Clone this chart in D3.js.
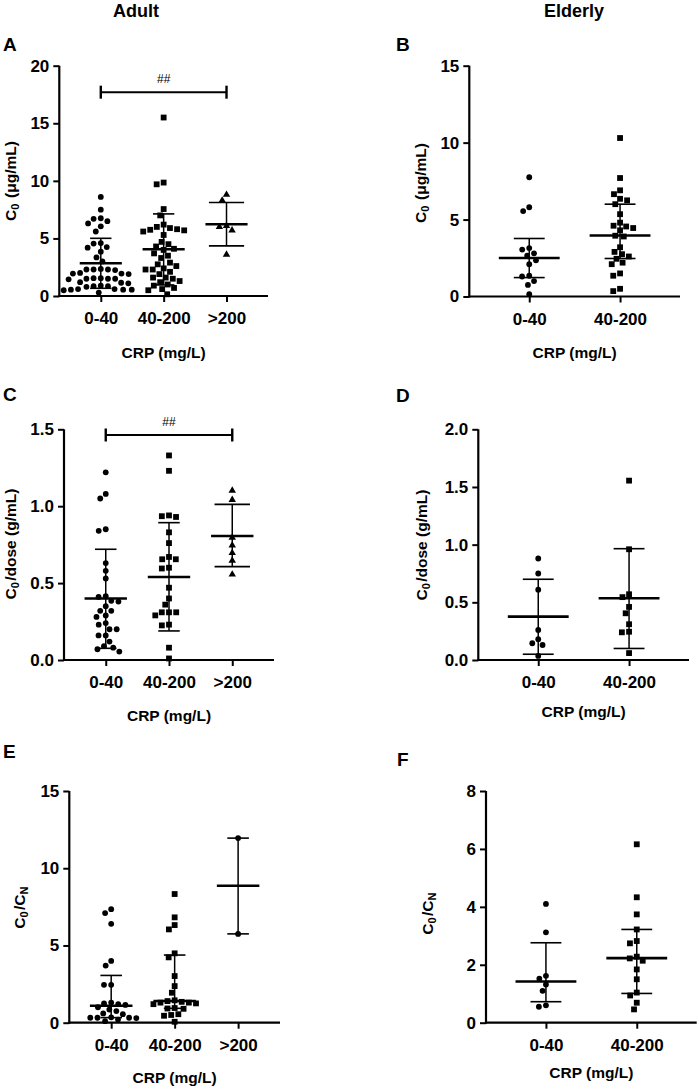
<!DOCTYPE html>
<html><head><meta charset="utf-8">
<script src="https://cdn.jsdelivr.net/npm/d3@7"></script>
<style>
body{margin:0;background:#fff}
text{font-family:"Liberation Sans",Arial,sans-serif;fill:#000}
</style>
</head><body>
<svg id="c" width="699" height="1088"></svg>
<script>
// ---------- categories & ticks ----------
const catsAdult = ["0-40", "40-200", ">200"];
const catsElderly = ["0-40", "40-200"];
const ticksA = [0, 5, 10, 15, 20];
const ticksB = [0, 5, 10, 15];
const ticksC = [0.0, 0.5, 1.0, 1.5];
const ticksD = [0.0, 0.5, 1.0, 1.5, 2.0];
const ticksE = [0, 5, 10, 15];
const ticksF = [0, 2, 4, 6, 8];

// ---------- Panel A: Adult C0 ----------
const aC0_g1 = [8.6, 7.5, 6.75, 6.7, 6.5, 6.3, 6.05, 5.6, 4.6, 4.55, 4.25, 4.2, 3.85, 3.35, 3.0,
  2.35, 2.3, 2.3, 2.3, 2.25, 2.0, 1.95, 1.95, 1.9, 1.55, 1.55, 1.5, 1.5, 1.5, 1.45, 1.2, 1.15, 1.1,
  0.9, 0.85, 0.85, 0.8, 0.6, 0.6, 0.55, 0.55, 0.55, 0.5, 0.3];
const aC0_g2 = [15.5, 9.85, 9.7, 7.55, 7.0, 6.2, 6.0, 5.9, 5.8, 5.75, 5.7, 5.6, 5.3, 4.7, 4.5, 4.3, 4.1,
  4.0, 3.7, 3.5, 3.3, 2.9, 2.75, 2.6, 2.4, 2.3, 2.3, 2.1, 1.9, 1.6, 1.6, 1.5, 1.3, 1.2, 1.0, 0.9, 0.7,
  0.6, 0.5, 0.15];
const aC0_g3 = [8.85, 8.35, 6.15, 6.05, 5.75, 3.65];
const aC0_center = [2.84, 4.06, 6.23];
const aC0_low = [0.67, 0.96, 4.35];
const aC0_high = [5.01, 7.13, 8.12];

// ---------- Panel B: Elderly C0 ----------
const eC0_g1 = [7.75, 5.8, 5.55, 3.15, 3.05, 2.8, 2.65, 2.35, 2.1, 1.35, 1.3, 1.0, 0.75, 0.15];
const eC0_g2 = [10.3, 7.7, 6.9, 6.65, 6.35, 6.25, 6.0, 5.35, 4.8, 4.6, 4.55, 4.45, 4.3, 3.95, 3.9,
  3.2, 2.9, 2.75, 2.6, 2.45, 2.2, 2.1, 1.5, 1.35, 0.5, 0.35];
const eC0_center = [2.5, 3.96];
const eC0_low = [1.23, 2.47];
const eC0_high = [3.77, 6.0];

// ---------- Panel C: Adult C0/dose ----------
const aDose_g1 = [1.22, 1.08, 1.05, 0.85, 0.84, 0.63, 0.58, 0.53, 0.415, 0.41, 0.385, 0.38, 0.35, 0.32,
  0.32, 0.29, 0.28, 0.24, 0.23, 0.20, 0.20, 0.16, 0.16, 0.12, 0.09, 0.08, 0.07, 0.055];
const aDose_g2 = [1.33, 1.23, 0.935, 0.94, 0.93, 0.83, 0.76, 0.67, 0.655, 0.655, 0.595, 0.60, 0.47,
  0.40, 0.36, 0.31, 0.31, 0.31, 0.29, 0.225, 0.23, 0.08, 0.01];
const aDose_g3 = [1.105, 1.045, 0.80, 0.75, 0.70, 0.65, 0.56];
const aDose_center = [0.40, 0.54, 0.806];
const aDose_low = [0.076, 0.189, 0.607];
const aDose_high = [0.72, 0.893, 1.012];

// ---------- Panel D: Elderly C0/dose ----------
const eDose_g1 = [0.88, 0.75, 0.61, 0.26, 0.18, 0.145, 0.13, 0.035];
const eDose_g2 = [1.555, 0.96, 0.57, 0.545, 0.46, 0.405, 0.31, 0.245, 0.24, 0.06];
const eDose_center = [0.376, 0.535];
const eDose_low = [0.05, 0.10];
const eDose_high = [0.70, 0.965];

// ---------- Panel E: Adult C0/CN ----------
const aCN_g1 = [7.35, 7.1, 6.4, 4.0, 3.7, 2.45, 2.45, 1.3, 1.25, 1.2, 1.15, 1.0, 0.85, 0.75, 0.6, 0.55,
  0.35, 0.32, 0.32, 0.32, 0.3, 0.2, 0.1];
const aCN_g2 = [8.33, 6.82, 6.32, 6.04, 4.49, 4.23, 3.02, 2.37, 1.94, 1.45, 1.40, 1.35, 1.3, 1.3, 1.25,
  1.2, 0.95, 0.92, 0.9, 0.55, 0.5, 0.45, 0.06];
const aCN_g3 = [11.95, 5.75];
const aCN_center = [1.1, 1.4, 8.87];
const aCN_low = [0.33, 0.93, 5.75];
const aCN_high = [3.06, 4.38, 11.95];

// ---------- Panel F: Elderly C0/CN ----------
const eCN_g1 = [4.1, 3.12, 1.62, 1.52, 1.32, 1.1, 0.6, 0.55];
const eCN_g2 = [6.16, 4.33, 3.74, 3.22, 2.82, 2.74, 2.28, 2.22, 2.14, 1.84, 1.5, 1.04, 0.94, 0.69, 0.46];
const eCN_center = [1.42, 2.23];
const eCN_low = [0.725, 1.01];
const eCN_high = [2.76, 3.22];

// significance brackets (value level of bar, label)
const sigA = { from: "0-40", to: ">200", level: 17.7, label: "##" };
const sigC = { from: "0-40", to: ">200", level: 1.463, label: "##" };

// ---------- drawing ----------
const svg = d3.select("#c");
const FONT = '"Liberation Sans", Arial, sans-serif';

function beeswarm(vals, y, d) {
  const order = vals.map((v, i) => i).sort((a, b) => vals[b] - vals[a]);
  const placed = [];
  const off = new Array(vals.length).fill(0);
  for (const i of order) {
    const py = y(vals[i]);
    const ivs = [];
    for (const p of placed) {
      const dy = Math.abs(p.y - py);
      if (dy < d) { const w = Math.sqrt(d * d - dy * dy); ivs.push([p.x - w, p.x + w]); }
    }
    const cands = [0];
    ivs.forEach(iv => cands.push(iv[0], iv[1]));
    cands.sort((a, b) => Math.abs(a) - Math.abs(b));
    let best = 0;
    for (const c of cands) {
      if (ivs.every(iv => c <= iv[0] + 1e-6 || c >= iv[1] - 1e-6)) { best = c; break; }
    }
    off[i] = best;
    placed.push({ x: best, y: py });
  }
  return off;
}

function drawMarker(g, shape, cx, cy) {
  if (shape === "circle") {
    g.append("circle").attr("cx", cx).attr("cy", cy).attr("r", 2.9).attr("fill", "#000");
  } else if (shape === "square") {
    g.append("rect").attr("x", cx - 2.9).attr("y", cy - 2.9).attr("width", 5.8).attr("height", 5.8).attr("fill", "#000");
  } else {
    g.append("path").attr("d", d3.symbol(d3.symbolTriangle).size(24)())
      .attr("transform", `translate(${cx},${cy + 0.6})`).attr("fill", "#000");
  }
}

function panel(cfg) {
  const g = svg.append("g");
  const x = d3.scalePoint().domain(cfg.cats).range([cfg.left, cfg.right]).padding(0.66);
  const y = d3.scaleLinear().domain([0, d3.max(cfg.ticks)]).range([cfg.bottom, cfg.top]);
  const step = x.step();

  // points
  cfg.groups.forEach((vals, gi) => {
    const cx = x(cfg.cats[gi]);
    const offs = beeswarm(vals, y, 7.2);
    vals.forEach((v, i) => drawMarker(g, cfg.shapes[gi], cx + offs[i], y(v)));
  });

  // center line & error bars
  cfg.cats.forEach((c, gi) => {
    const cx = x(c);
    const capW = (cfg.shapes[gi] === "triangle" ? 0.28 : 0.17) * step;
    const midW = 0.335 * step;
    g.append("line").attr("x1", cx).attr("x2", cx)
      .attr("y1", y(cfg.low[gi])).attr("y2", y(cfg.high[gi]))
      .attr("stroke", "#000").attr("stroke-width", 1.5);
    [cfg.low[gi], cfg.high[gi]].forEach(v => {
      g.append("line").attr("x1", cx - capW).attr("x2", cx + capW)
        .attr("y1", y(v)).attr("y2", y(v)).attr("stroke", "#000").attr("stroke-width", 1.6);
    });
    g.append("line").attr("x1", cx - midW).attr("x2", cx + midW)
      .attr("y1", y(cfg.center[gi])).attr("y2", y(cfg.center[gi]))
      .attr("stroke", "#000").attr("stroke-width", 2.6);
  });

  // significance bracket
  if (cfg.sig) {
    const s = cfg.sig, yy = y(s.level);
    const x1 = x(s.from), x2 = x(s.to);
    g.append("line").attr("x1", x1).attr("x2", x2).attr("y1", yy).attr("y2", yy)
      .attr("stroke", "#000").attr("stroke-width", 2);
    [x1, x2].forEach(xx => g.append("line").attr("x1", xx).attr("x2", xx)
      .attr("y1", yy - 6.5).attr("y2", yy + 6.5).attr("stroke", "#000").attr("stroke-width", 2.4));
    g.append("text").attr("x", (x1 + x2) / 2).attr("y", yy - 9)
      .attr("text-anchor", "middle").attr("font-size", 12).text(s.label);
  }

  // axes
  const yAxis = d3.axisLeft(y).tickValues(cfg.ticks).tickSize(6).tickSizeOuter(0).tickPadding(4)
    .tickFormat(cfg.fmt);
  const yg = g.append("g").attr("transform", `translate(${cfg.left},0)`).call(yAxis);
  const xAxis = d3.axisBottom(x).tickSize(6).tickSizeOuter(0).tickPadding(10);
  const xg = g.append("g").attr("transform", `translate(0,${cfg.bottom})`).call(xAxis);
  [yg, xg].forEach(a => {
    a.select(".domain").attr("stroke", "#000").attr("stroke-width", 2.2);
    a.selectAll(".tick line").attr("stroke", "#000").attr("stroke-width", 2);
    a.selectAll(".tick text").attr("font-family", FONT).attr("font-weight", "bold")
      .attr("font-size", 17).attr("fill", "#000");
  });
  yg.select(".domain").attr("d", `M0,${cfg.bottom + 1}V${cfg.top}`);
  xg.select(".domain").attr("d", `M${cfg.left - 1},0H${cfg.right}`);

  // y title
  const t = g.append("text").attr("transform", `translate(${cfg.ylabX},${cfg.ylabY}) rotate(-90)`)
    .attr("text-anchor", "middle").attr("font-weight", "bold").attr("font-size", 15.5);
  cfg.ylab.forEach(p => {
    if (p[1] === "sub") {
      t.append("tspan").attr("font-size", 11).attr("dy", 3).text(p[0]);
      t.append("tspan").attr("dy", -3).text("\u200A");
    } else {
      t.append("tspan").text(p[0]);
    }
  });

  // x title
  const xs = cfg.cats.map(c => x(c));
  g.append("text").attr("x", (xs[0] + xs[xs.length - 1]) / 2).attr("y", cfg.xlabY)
    .attr("text-anchor", "middle").attr("font-weight", "bold").attr("font-size", 15.5).text("CRP (mg/L)");

  // panel letter
  g.append("text").attr("x", cfg.letterX).attr("y", cfg.letterY)
    .attr("font-weight", "bold").attr("font-size", 19).text(cfg.letter);
}

const f0 = d3.format("d"), f1 = d3.format(".1f");
const labC0 = [["C", ""], ["0", "sub"], [" (\u03bcg/mL)", ""]];
const labDose = [["C", ""], ["0", "sub"], ["/dose (g/mL)", ""]];
const labCN = [["C", ""], ["0", "sub"], ["/C", ""], ["N", "sub"]];

panel({ letter: "A", letterX: 3, letterY: 51, cats: catsAdult, ticks: ticksA, fmt: f0,
  groups: [aC0_g1, aC0_g2, aC0_g3], shapes: ["circle", "square", "triangle"],
  center: aC0_center, low: aC0_low, high: aC0_high, sig: sigA,
  left: 59.3, right: 268, top: 65.7, bottom: 296, ylab: labC0, ylabX: 15.5, ylabY: 181, xlabY: 357.5 });

panel({ letter: "B", letterX: 396, letterY: 51, cats: catsElderly, ticks: ticksB, fmt: f0,
  groups: [eC0_g1, eC0_g2], shapes: ["circle", "square"],
  center: eC0_center, low: eC0_low, high: eC0_high,
  left: 469.3, right: 680, top: 65.7, bottom: 296.5, ylab: labC0, ylabX: 426, ylabY: 183, xlabY: 358 });

panel({ letter: "C", letterX: 3, letterY: 401, cats: catsAdult, ticks: ticksC, fmt: f1,
  groups: [aDose_g1, aDose_g2, aDose_g3], shapes: ["circle", "square", "triangle"],
  center: aDose_center, low: aDose_low, high: aDose_high, sig: sigC,
  left: 64, right: 274, top: 429.3, bottom: 660, ylab: labDose, ylabX: 16, ylabY: 544, xlabY: 721 });

panel({ letter: "D", letterX: 396, letterY: 402, cats: catsElderly, ticks: ticksD, fmt: f1,
  groups: [eDose_g1, eDose_g2], shapes: ["circle", "square"],
  center: eDose_center, low: eDose_low, high: eDose_high,
  left: 478.3, right: 689, top: 429.3, bottom: 660, ylab: labDose, ylabX: 427, ylabY: 545, xlabY: 717 });

panel({ letter: "E", letterX: 3, letterY: 758, cats: catsAdult, ticks: ticksE, fmt: f0,
  groups: [aCN_g1, aCN_g2, aCN_g3], shapes: ["circle", "square", "circle"],
  center: aCN_center, low: aCN_low, high: aCN_high,
  left: 69.3, right: 280, top: 791, bottom: 1022.7, ylab: labCN, ylabX: 25, ylabY: 907, xlabY: 1083 });

panel({ letter: "F", letterX: 397, letterY: 766, cats: catsElderly, ticks: ticksF, fmt: f0,
  groups: [eCN_g1, eCN_g2], shapes: ["circle", "square"],
  center: eCN_center, low: eCN_low, high: eCN_high,
  left: 486, right: 696.7, top: 791, bottom: 1022.7, ylab: labCN, ylabX: 433, ylabY: 913, xlabY: 1077.5 });

// column titles
svg.append("text").attr("x", 136).attr("y", 17).attr("text-anchor", "middle")
  .attr("font-weight", "bold").attr("font-size", 18).text("Adult");
svg.append("text").attr("x", 574).attr("y", 17).attr("text-anchor", "middle")
  .attr("font-weight", "bold").attr("font-size", 18).text("Elderly");
</script>
</body></html>
